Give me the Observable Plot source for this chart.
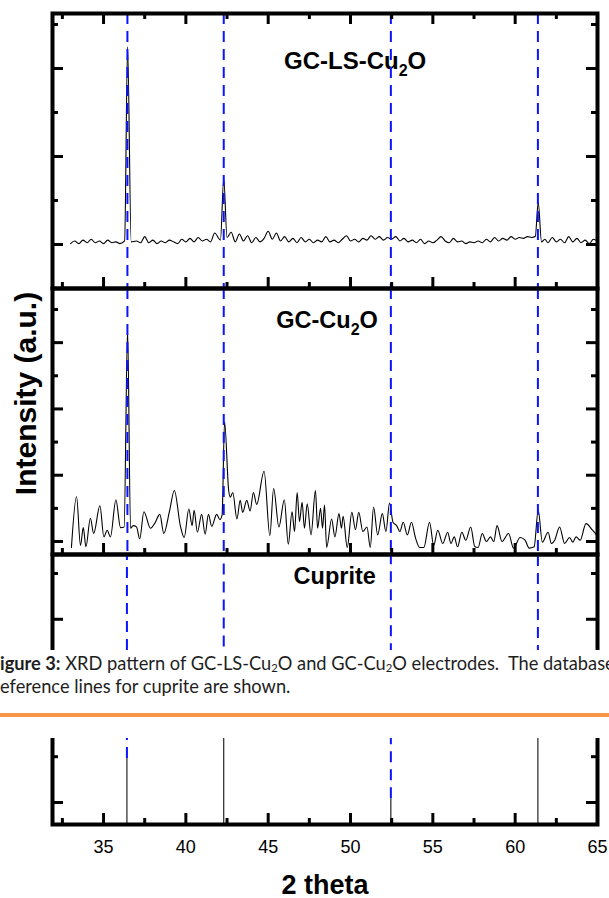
<!DOCTYPE html>
<html><head><meta charset="utf-8">
<script src="https://cdn.jsdelivr.net/npm/d3@7"></script>
<script src="https://cdn.jsdelivr.net/npm/@observablehq/plot@0.6"></script>
<style>
html,body{margin:0;padding:0;background:#fff;}
#page{position:relative;width:609px;height:898px;overflow:hidden;background:#fff;}
#page svg{position:absolute;left:0;}
#caption{position:absolute;left:0;top:650px;width:609px;height:88px;background:#fff;overflow:hidden;font-family:Lato,"Open Sans",sans-serif;color:#1e1e1e;z-index:5;}
.capline{position:absolute;left:0;white-space:nowrap;font-size:18.25px;line-height:1;}
.capline sub{font-size:0.62em;vertical-align:-0.22em;line-height:0;}
#orange{position:absolute;left:0;top:63px;width:609px;height:4px;background:#F79646;}
</style></head><body><div id="page"></div>
<script>
// ---------- data ----------
const xDomain = [31.9, 65];
const xMajor = [35, 40, 45, 50, 55, 60, 65];
const xMinor = [32.5, 37.5, 42.5, 47.5, 52.5, 57.5, 62.5];
const cupriteRefs = [36.45, 42.3, 52.45, 61.38];
const cupriteSticks = [[36.42, 48], [42.3, 150], [52.45, 4], [61.38, 120]];
const panelLabels = ["GC-LS-Cu2O", "GC-Cu2O", "Cuprite"];
const yLabel = "Intensity (a.u.)";
const xLabel = "2 theta";

// GC-LS-Cu2O pattern [2theta, intensity]
const lsCu2O = [
[33.0,1],[33.25,4],[33.5,1],[33.75,5],[34.0,2],[34.25,6],[34.5,2],[34.75,4],[35.0,1],[35.25,5],[35.5,2],[35.75,3],[36.0,1],
[36.28,4],[36.46,225],[36.68,3],[37.0,4],[37.25,2],[37.5,9],[37.75,2],[38.0,5],[38.25,1],[38.5,4],[38.75,2],[39.0,5],[39.25,3],
[39.5,1],[39.75,6],[40.0,3],[40.25,7],[40.5,3],[40.75,8],[41.0,4],[41.25,6],[41.5,3],[41.75,13],[42.1,5],[42.3,75],[42.5,8],
[42.75,14],[43.0,3],[43.25,12],[43.5,4],[43.75,10],[44.0,2],[44.25,8],[44.5,3],[44.75,7],[45.0,15],[45.25,6],[45.5,13],[45.75,4],
[46.0,9],[46.25,3],[46.5,7],[46.75,2],[47.0,8],[47.25,3],[47.5,6],[47.75,2],[48.0,5],[48.25,3],[48.5,9],[48.75,3],[49.0,5],
[49.25,2],[49.5,6],[49.75,10],[50.0,4],[50.25,6],[50.5,3],[50.75,7],[51.0,5],[51.25,10],[51.5,6],[51.75,9],[52.0,5],[52.25,8],
[52.5,6],[52.75,9],[53.0,4],[53.25,7],[53.5,3],[53.75,5],[54.0,2],[54.25,6],[54.5,1],[54.75,4],[55.0,2],[55.25,5],[55.5,9],
[55.75,4],[56.0,2],[56.25,7],[56.5,3],[56.75,4],[57.0,1],[57.25,3],[57.5,2],[57.75,4],[58.0,2],[58.25,6],[58.5,3],[58.75,8],
[59.0,4],[59.25,7],[59.5,5],[59.75,9],[60.0,6],[60.25,8],[60.5,7],[60.75,9],[61.0,8],[61.22,9],[61.4,48],[61.6,3],[61.8,6],
[62.0,2],[62.25,8],[62.5,3],[62.75,6],[63.0,2],[63.25,9],[63.5,3],[63.75,7],[64.0,2],[64.25,5],[64.5,1],[64.75,6],[65.0,4]
];

// GC-Cu2O pattern [2theta, intensity]
const gcCu2O = [
[33.05,-9],[33.36,68],[33.6,-6],[33.77,21],[33.93,-8],[34.2,35],[34.4,12],[34.78,54],[35.02,7],[35.22,17],[35.42,7],[35.75,63],
[36.03,21],[36.25,22],[36.46,321],[36.64,20],[36.8,24],[37.0,22],[37.2,4],[37.45,45],[37.85,20],[38.1,27],[38.42,41],[38.66,12],
[39.0,45],[39.3,77],[39.67,23],[39.9,6],[40.18,49],[40.38,24],[40.5,47],[40.7,14],[40.96,41],[41.17,11],[41.37,41],[41.57,23],
[41.87,41],[42.07,33],[42.2,40],[42.35,181],[42.6,77],[42.7,67],[42.85,74],[43.1,34],[43.3,62],[43.45,44],[43.7,62],[43.9,46],
[44.1,74],[44.3,56],[44.75,106],[45.1,9],[45.33,80],[45.65,22],[45.98,63],[46.22,-4],[46.45,45],[46.6,15],[46.76,74],[46.9,30],
[47.06,59],[47.2,20],[47.37,57],[47.6,10],[47.87,77],[48.0,20],[48.18,50],[48.3,20],[48.42,55],[48.55,-9],[48.85,34],[49.05,7],
[49.3,42],[49.45,20],[49.55,38],[49.8,-9],[50.08,44],[50.3,18],[50.5,44],[50.75,15],[51.0,22],[51.2,-9],[51.4,52],[51.65,10],
[51.93,42],[52.15,15],[52.37,58],[52.58,29],[52.8,24],[53.0,15],[53.2,29],[53.45,10],[53.7,29],[53.95,5],[54.2,-9],[54.45,-9],
[54.8,29],[55.05,-6],[55.3,17],[55.6,-3],[55.9,14],[56.1,-3],[56.3,7],[56.5,-8],[56.76,14],[57.0,2],[57.3,22],[57.55,-8],
[57.75,-9],[58.0,12],[58.25,0],[58.5,7],[58.7,0],[58.9,24],[59.2,0],[59.6,12],[59.9,-10],[60.3,6],[60.6,2],[60.85,-10],
[61.15,-8],[61.4,47],[61.65,-1],[62.0,14],[62.2,-3],[62.4,2],[62.7,22],[63.0,-3],[63.3,6],[63.5,-1],[63.7,7],[63.95,2],
[64.3,27],[64.7,17],[65.0,8]
];

const panel1Ticks = {major: [0, 100, 200], minor: [50, 150, 250]};
const panel2Ticks = {major: [0, 100, 200, 300], minor: [50, 150, 250, 350]};
const panel3Ticks = {major: [0, 100, 200], minor: [50, 150, 250]};

// ---------- layout ----------
const W = 609, ML = 52, MR = 12, PW = W - ML - MR;
const FONT = "'Liberation Sans', Arial, Helvetica, sans-serif";
const page = document.getElementById("page");
const BLUE = "#0a14ff";
const Y3 = [-24, 270.7];

function frameMarks(h, ticks, withTop) {
  const t = {stroke: "black", strokeWidth: 3};
  const m = [];
  if (withTop) {
    m.push(Plot.ruleX(xMajor, {...t, insetBottom: h - 11}));
    m.push(Plot.ruleX(xMinor, {...t, insetBottom: h - 6}));
  }
  m.push(Plot.ruleX(xMajor, {...t, insetTop: h - 11}));
  m.push(Plot.ruleX(xMinor, {...t, insetTop: h - 6}));
  m.push(Plot.ruleY(ticks.major, {...t, insetRight: PW - 11}));
  m.push(Plot.ruleY(ticks.minor, {...t, insetRight: PW - 6}));
  m.push(Plot.ruleY(ticks.major, {...t, insetLeft: PW - 11}));
  m.push(Plot.ruleY(ticks.minor, {...t, insetLeft: PW - 6}));
  m.push(Plot.frame({stroke: "black", strokeWidth: 4}));
  return m;
}

function addPanel({top, mt, h, mb, yDomain, marks, xAxis}) {
  const svg = Plot.plot({
    width: W, height: mt + h + mb,
    marginTop: mt, marginBottom: mb, marginLeft: ML, marginRight: MR,
    x: xAxis ? {domain: xDomain} : {domain: xDomain, axis: null},
    y: {domain: yDomain, axis: null},
    style: {fontFamily: FONT, fontSize: "18px", background: "transparent", overflow: "visible", color: "black"},
    marks
  });
  svg.style.top = top + "px";
  // subscripts for chemical formulas
  svg.querySelectorAll("text").forEach(t => {
    const s = t.textContent;
    if (s.includes("Cu2O")) {
      const i = s.indexOf("Cu2O");
      t.innerHTML = s.slice(0, i) + 'Cu<tspan dy="7" font-size="16">2</tspan><tspan dy="-7">O</tspan>';
    }
  });
  page.append(svg);
}

const lineStyle = {x: d => d[0], y: d => d[1], stroke: "black", strokeWidth: 1.1, curve: "monotone-x"};
const dashStyle = {stroke: BLUE, strokeWidth: 2, strokeDasharray: "11,7"};
const labelStyle = {frameAnchor: "top", textAnchor: "start", lineAnchor: "bottom", fontWeight: "bold", fill: "black"};

// Panel 1: GC-LS-Cu2O
addPanel({
  top: 0, mt: 13, h: 275, mb: 12, yDomain: [-50, 262.5],
  marks: [
    Plot.line(lsCu2O, lineStyle),
    Plot.text([panelLabels[0]], {...labelStyle, x: () => 45.96, dy: 55, fontSize: 24}),
    Plot.ruleX(cupriteRefs, dashStyle),
    ...frameMarks(275, panel1Ticks, true)
  ]
});

// Panel 2: GC-Cu2O
addPanel({
  top: 276, mt: 12, h: 266, mb: 12, yDomain: [-19.6, 381.7],
  marks: [
    Plot.line(gcCu2O, lineStyle),
    Plot.text([panelLabels[1]], {...labelStyle, x: () => 45.49, dy: 39, fontSize: 23.5}),
    Plot.text([yLabel], {frameAnchor: "left", textAnchor: "middle", dx: -26, dy: -28, rotate: -90, fontSize: 30, fontWeight: "bold", fill: "black"}),
    Plot.ruleX(cupriteRefs, dashStyle),
    ...frameMarks(266, panel2Ticks, false)
  ]
});

// Panel 3: Cuprite reference (dashed reference lines rise from each stick's top)
addPanel({
  top: 542, mt: 12, h: 270, mb: 74, yDomain: Y3, xAxis: true,
  marks: [
    Plot.ruleX(cupriteSticks, {x: d => d[0], y1: d => d[1], y2: Y3[1], ...dashStyle}),
    Plot.ruleX(cupriteSticks, {x: d => d[0], y1: Y3[0], y2: d => d[1], stroke: "#111", strokeWidth: 1.1}),
    Plot.text([panelLabels[2]], {...labelStyle, x: () => 46.54, dy: 29, fontSize: 23.5}),
    Plot.text([xLabel], {frameAnchor: "bottom", dy: 69, fontSize: 27, fontWeight: "bold", fill: "black"}),
    ...frameMarks(270, panel3Ticks, false),
    Plot.axisX(xMajor, {tickSize: 0, tickPadding: 16, fontSize: 18, tickFormat: d => String(d), label: null, fill: "black"})
  ]
});

// Document caption overlapping the figure
const cap = document.createElement("div");
cap.id = "caption";
cap.innerHTML =
  '<div class="capline" style="top:4px"><b>igure 3:</b> XRD pattern of GC-LS-Cu<sub>2</sub>O and GC-Cu<sub>2</sub>O electrodes.&nbsp; The database</div>' +
  '<div class="capline" style="top:27px">eference lines for cuprite are shown.</div>' +
  '<div id="orange"></div>';
page.append(cap);
</script></body></html>
